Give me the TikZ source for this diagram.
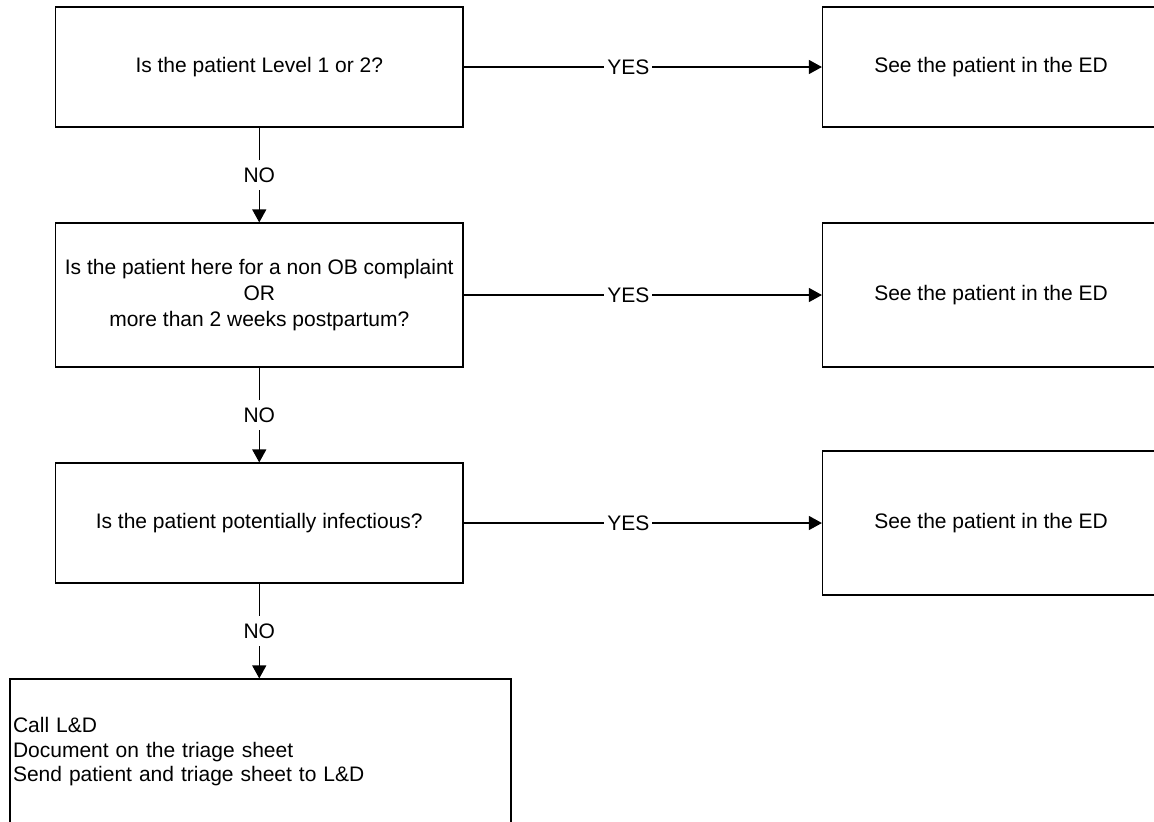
\documentclass[tikz,border=0pt]{standalone}
\usepackage{fontspec}
\setmainfont{Liberation Sans}
\usetikzlibrary{arrows.meta,positioning}

\tikzset{
  qbox/.style={draw, line width=0.6pt, minimum width=203.75pt, minimum height=60pt,
    inner sep=0pt, align=center, font=\fontsize{10.5}{13}\selectfont},
  edbox/.style={qbox, minimum width=168.5pt, minimum height=72pt},
  flow/.style={line width=0.6pt, -{Triangle[length=6.5pt,width=7pt]}},
  tag/.style={fill=white, inner xsep=1.5pt, inner ysep=4pt, font=\fontsize{10.5}{13}\selectfont}
}

\begin{document}
\begin{tikzpicture}[x=0.5pt, y=-0.5pt]

\useasboundingbox (0,0) rectangle (1154,821);

\node[qbox] (level) at (259.25,67) {Is the patient Level 1 or 2?};
\node[edbox, minimum height=60pt] (ed1) at (991,67) {See the patient in the ED};

\node[qbox, minimum height=72pt, font=\fontsize{10.5}{13.2}\selectfont] (nonob) at (259.25,295) {Is the patient here for a non OB complaint\\OR\\more than 2 weeks postpartum?};
\node[edbox] (ed2) at (991,295) {See the patient in the ED};

\node[qbox] (infect) at (259.25,523) {Is the patient potentially infectious?};
\node[edbox] (ed3) at (991,523) {See the patient in the ED};

\node[qbox, minimum width=250.5pt, minimum height=73pt, text width=247.5pt, inner xsep=1.5pt,
  align=left, font=\fontsize{10.5}{12.25}\selectfont] (call) at (260.5,752)
  {Call L\&D\\Document on the triage sheet\\Send patient and triage sheet to L\&D};

\draw[flow] (level) -- node[tag, pos=0.46] {YES} (ed1);
\draw[flow] (nonob) -- node[tag, pos=0.46] {YES} (ed2);
\draw[flow] (infect) -- node[tag, pos=0.46] {YES} (ed3);

\draw[flow] (level) -- node[tag] {NO} (nonob);
\draw[flow] (nonob) -- node[tag] {NO} (infect);
\draw[flow] (infect) -- node[tag] {NO} (call.north -| infect);

\end{tikzpicture}
\end{document}
